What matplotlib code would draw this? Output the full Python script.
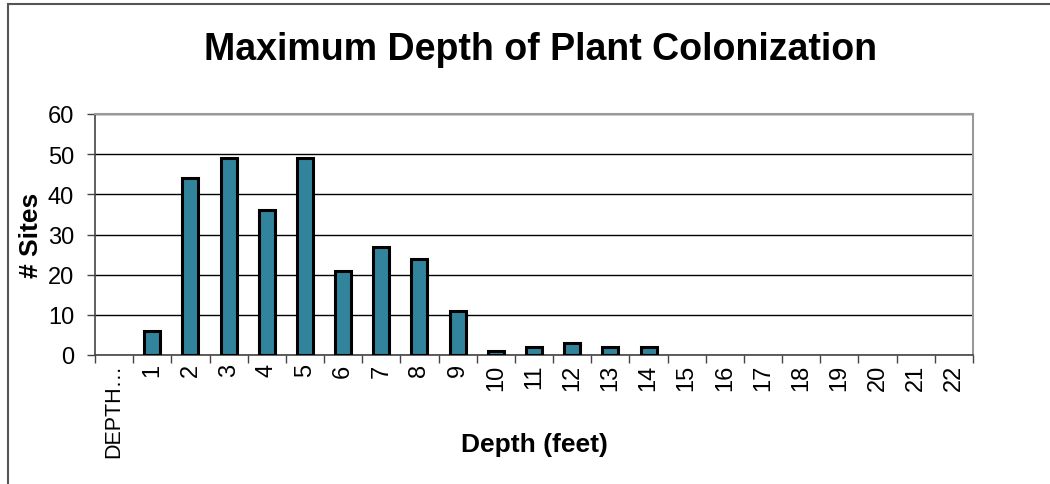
import matplotlib.pyplot as plt
from matplotlib.patches import Rectangle

plt.rcParams['font.family'] = ['Liberation Sans', 'DejaVu Sans']

# dados
categorias = ['DEPTH…'] + [str(i) for i in range(1, 23)]
sites = [0, 6, 44, 49, 36, 49, 21, 27, 24, 11, 1, 2, 3, 2, 2,
         0, 0, 0, 0, 0, 0, 0, 0]
y_ticks = [0, 10, 20, 30, 40, 50, 60]

fig = plt.figure(figsize=(10.5, 4.85), dpi=100)
ax = fig.add_axes([95 / 1050, 1 - 356 / 485, 878 / 1050, 241 / 485])

x = list(range(len(categorias)))
# barras com valor zero nao aparecem
larguras = [2.2 if v > 0 else 0 for v in sites]
ax.bar(x, sites, width=0.42, color='#31849B', edgecolor='black', linewidth=larguras, zorder=3)

ax.set_xlim(-0.5, len(categorias) - 0.5)
ax.set_ylim(0, 60)
ax.set_yticks(y_ticks)
ax.set_yticklabels([str(v) for v in y_ticks], fontsize=17)
ax.yaxis.grid(True, color='black', linewidth=1.0, zorder=0)

# ticks do eixo x nas divisas das categorias
ax.set_xticks([i - 0.5 for i in range(len(categorias) + 1)])
ax.set_xticklabels([])
ax.set_xticks(x, minor=True)
ax.set_xticklabels(categorias, minor=True, rotation=90, fontsize=17)
ax.get_xticklabels(minor=True)[0].set_fontsize(15.5)
ax.tick_params(axis='x', which='minor', length=0, pad=6)
ax.tick_params(axis='x', which='major', length=6, direction='out', width=1, color='#444444')
ax.tick_params(axis='y', length=6, direction='out', width=1, color='#444444', pad=9)

for lado in ['top', 'right']:
    ax.spines[lado].set_color('#999999')
    ax.spines[lado].set_linewidth(1.5)
for lado in ['left', 'bottom']:
    ax.spines[lado].set_color('#444444')
    ax.spines[lado].set_linewidth(1.2)

ax.set_ylabel('# Sites', fontsize=19, fontweight='bold')
ax.yaxis.set_label_coords((43 - 95) / 878, 0.5)
ax.set_xlabel('Depth (feet)', fontsize=19, fontweight='bold')
ax.xaxis.set_label_coords(0.5, -(433 - 356) / 241)

fig.text(541 / 1050, 1 - 50 / 485, 'Maximum Depth of Plant Colonization',
         fontsize=27, fontweight='bold', ha='center', va='center')

# borda externa do grafico
fig.patches.append(Rectangle((8 / 1050, -0.1), 1.2, 1 - 5 / 485 + 0.1,
                             transform=fig.transFigure, fill=False,
                             edgecolor='#555555', linewidth=1.5))

plt.savefig('out.png', dpi=100)
